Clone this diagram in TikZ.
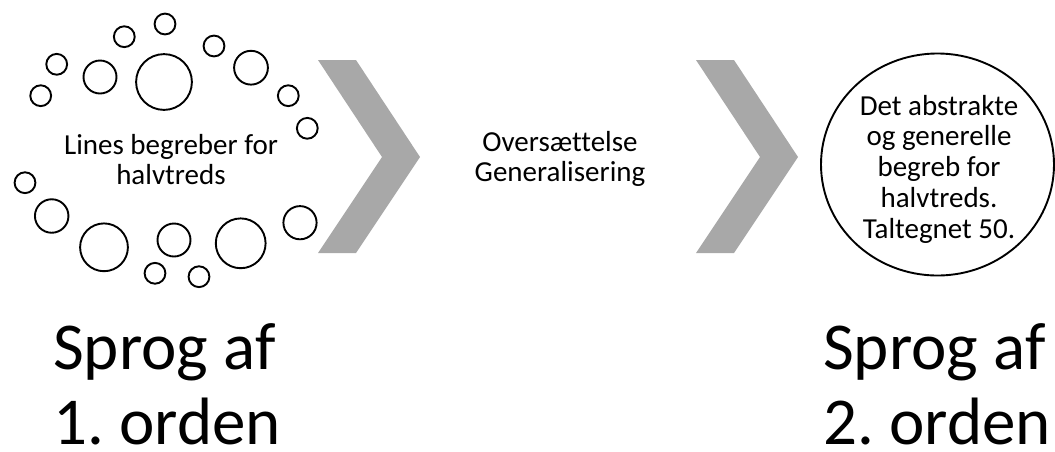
\documentclass[tikz,border=0pt]{standalone}
\usepackage{fontspec}
\setmainfont{Carlito}[Ligatures=NoCommon]
\frenchspacing
\usetikzlibrary{shapes.geometric}
\definecolor{chevrongray}{RGB}{168,168,168}
\begin{document}
\begin{tikzpicture}[x=1pt,y=-1pt,
  bubble/.style={circle, draw, line width=1.9pt, inner sep=0pt, minimum size=#1},
  bubble/.default=20.8pt,
  midtext/.style={font=\fontsize{29}{30}\selectfont, align=center, inner sep=0pt},
  bigtext/.style={font=\fontsize{67}{75}\selectfont, align=left, inner sep=0pt, anchor=west},
  chev/.style={fill=chevrongray, draw=none}]
\useasboundingbox (0,0) rectangle (1055,451);

% ring of bubbles around the first-order concept
\node[bubble] (b1) at (165,24) {};
\node[bubble] (b2) at (124.3,36.7) {};
\node[bubble] (b3) at (214,46) {};
\node[bubble] (b4) at (56.7,64.3) {};
\node[bubble=33pt] (b5) at (100,77) {};
\node[bubble=55.8pt] (b6) at (164,82) {};
\node[bubble=33.8pt] (b7) at (251,67.7) {};
\node[bubble] (b8) at (40.7,95.7) {};
\node[bubble] (b9) at (288.3,95.7) {};
\node[bubble] (b10) at (307.3,128.3) {};
\node[bubble] (b11) at (25,182.7) {};
\node[bubble=33.5pt] (b12) at (51.7,216) {};
\node[bubble=47.8pt] (b13) at (104,247.3) {};
\node[bubble=33pt] (b14) at (174,240) {};
\node[bubble=49.8pt] (b15) at (240.7,243.3) {};
\node[bubble=33.2pt] (b16) at (300,222.7) {};
\node[bubble] (b17) at (155,273.3) {};
\node[bubble] (b18) at (199,276.7) {};

\node[midtext] (lines) at (171,160) {Lines begreber for\\halvtreds};

% process chevrons
\foreach \dx in {0,378}
  \fill[chev] ({318+\dx},60) -- ({356+\dx},60) -- ({420+\dx},157)
    -- ({356+\dx},253) -- ({318+\dx},253) -- ({382+\dx},157) -- cycle;

\node[midtext] (trans) at (560,159.2) {Oversættelse\\Generalisering};

% second-order concept
\node[draw, ellipse, line width=1.9pt, minimum width=233pt, minimum height=222pt, inner sep=0pt] (abstract) at (937.5,164.5) {};
\node[midtext, font=\fontsize{29}{30.75}\selectfont] (abstxt) at (939,169) {Det abstrakte\\og generelle\\begreb for\\halvtreds.\\Taltegnet 50.};

% captions
\node[bigtext] (first) at (53,384) {Sprog af\\1. orden};
\node[bigtext] (second) at (823,384) {Sprog af\\2. orden};
\end{tikzpicture}
\end{document}
